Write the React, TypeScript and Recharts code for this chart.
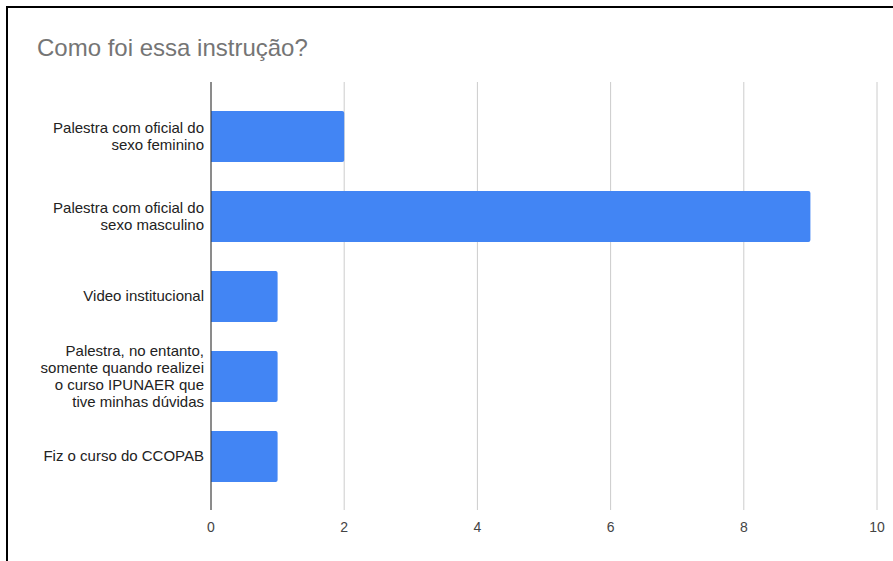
import React from "react";
import { Bar, BarChart, CartesianGrid, ReferenceLine, XAxis, YAxis } from "recharts";

const categories = [
  "Palestra com oficial do sexo feminino",
  "Palestra com oficial do sexo masculino",
  "Video institucional",
  "Palestra, no entanto, somente quando realizei o curso IPUNAER que tive minhas dúvidas",
  "Fiz o curso do CCOPAB",
];
const counts = [2, 9, 1, 1, 1];
const xTicks = [0, 2, 4, 6, 8, 10];

const data = categories.map((name, i) => ({ name, value: counts[i] }));

const FONT = "Arial, 'Liberation Sans', sans-serif";
const LABEL_SIZE = 15;
const LABEL_WIDTH = 170;
const LINE_H = 17;

let ctx: CanvasRenderingContext2D | null = null;
function measure(s: string) {
  if (!ctx) ctx = document.createElement("canvas").getContext("2d");
  if (!ctx) return s.length * 7;
  ctx.font = `${LABEL_SIZE}px ${FONT}`;
  return ctx.measureText(s).width;
}

function wrap(text: string) {
  const words = text.split(" ");
  const lines: string[] = [];
  let cur = "";
  for (const w of words) {
    const next = cur ? cur + " " + w : w;
    if (cur && measure(next) > LABEL_WIDTH) {
      lines.push(cur);
      cur = w;
    } else {
      cur = next;
    }
  }
  if (cur) lines.push(cur);
  return lines;
}

function CategoryTick(props: any) {
  const { x, y, payload } = props;
  const lines = wrap(payload.value);
  const start = y - ((lines.length - 1) * LINE_H) / 2;
  return (
    <text x={x + 1} y={start} textAnchor="end" fontSize={LABEL_SIZE} fontFamily={FONT} fill="#222222">
      {lines.map((l, i) => (
        <tspan key={i} x={x + 1} y={start + i * LINE_H} dy="0.355em">
          {l}
        </tspan>
      ))}
    </text>
  );
}

export default function App() {
  return (
    <div style={{ position: "absolute", left: 0, top: 0, width: 893, height: 561, background: "#fff", overflow: "hidden" }}>
      <div style={{ position: "absolute", left: 6, top: 6, width: 900, height: 600, borderLeft: "2px solid #000", borderTop: "2px solid #000" }} />
      <div style={{ position: "absolute", left: 37, top: 34, fontFamily: FONT, fontSize: 24, color: "#757575" }}>Como foi essa instrução?</div>
      <div style={{ position: "absolute", left: 0, top: 0 }}>
        <BarChart width={893} height={561} data={data} layout="vertical" margin={{ top: 82, right: 16, bottom: 21, left: 0 }}>
          <CartesianGrid horizontal={false} stroke="#cccccc" />
          <XAxis
            type="number"
            domain={[0, 10]}
            ticks={xTicks}
            tickLine={false}
            axisLine={false}
            height={30}
            tick={{ fill: "#444444", fontSize: 14, fontFamily: FONT }}
            tickMargin={6}
          />
          <YAxis
            type="category"
            dataKey="name"
            width={211}
            tickLine={false}
            axisLine={false}
            padding={{ top: 14, bottom: 14 }}
            tick={<CategoryTick />}
            interval={0}
          />
          <ReferenceLine x={0} stroke="#333333" strokeWidth={1} />
          <Bar dataKey="value" fill="#4285f4" barSize={51} radius={[0, 2, 2, 0]} isAnimationActive={false} />
        </BarChart>
      </div>
    </div>
  );
}
